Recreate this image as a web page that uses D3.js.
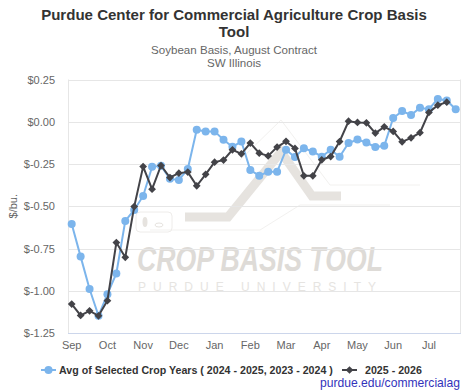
<!DOCTYPE html>
<html><head><meta charset="utf-8">
<script src="https://cdn.jsdelivr.net/npm/d3@7"></script>
<style>body{margin:0;background:#fff}svg{display:block}</style>
</head><body><svg id="c" width="468" height="390"></svg>
<script>
// ---- data ----
const monthLabels = ["Sep","Oct","Nov","Dec","Jan","Feb","Mar","Apr","May","Jun","Jul"];
const monthTickIndex = [0,4,8,12,16,20,24,28,32,36,40];
const yTicks = [0.25, 0, -0.25, -0.5, -0.75, -1, -1.25];
const avgSelected = [-0.605,-0.798,-0.990,-1.148,-1.020,-0.898,-0.587,-0.522,-0.439,-0.267,
  -0.261,-0.338,-0.344,-0.280,-0.047,-0.057,-0.057,-0.107,-0.148,-0.117,
  -0.286,-0.319,-0.296,-0.296,-0.166,-0.209,-0.157,-0.176,-0.207,-0.166,
  -0.207,-0.126,-0.105,-0.123,-0.150,-0.142,0.022,0.063,0.040,0.083,
  0.074,0.135,0.126,0.074];
const current = [-1.079,-1.146,-1.119,-1.148,-1.059,-0.715,-0.802,-0.502,-0.265,-0.399,
  -0.259,-0.330,-0.304,-0.298,-0.379,-0.311,-0.239,-0.227,-0.166,-0.190,
  -0.126,-0.186,-0.202,-0.150,-0.116,-0.158,-0.320,-0.320,-0.225,-0.206,
  -0.117,0.003,-0.004,-0.006,-0.067,-0.030,-0.057,-0.119,-0.095,-0.065,
  0.055,0.098,0.116];
const seriesNames = ["Avg of Selected Crop Years ( 2024 - 2025, 2023 - 2024 )", "2025 - 2026"];
const titleLines = ["Purdue Center for Commercial Agriculture Crop Basis", "Tool"];
const subtitleLines = ["Soybean Basis, August Contract", "SW Illinois"];
const yTitle = "$/bu.";
const credit = "purdue.edu/commercialag";
const watermarkLines = ["CROP BASIS TOOL", "PURDUE UNIVERSITY"];

// ---- layout ----
const FONT = "'Liberation Sans', Arial, sans-serif";
const svg = d3.select("#c");
const plot = {left: 68, right: 461, top: 79.5, bottom: 333};
const blue = "#7cb5ec", dark = "#434348";

svg.append("rect").attr("width",468).attr("height",390).attr("fill","#fff");

function fit(sel, target){
  const w = sel.node().getComputedTextLength();
  const fs = parseFloat(sel.attr("font-size"));
  sel.attr("font-size", (fs*target/w).toFixed(2));
}

const x = d3.scaleLinear().domain([0,43]).range([71.7,455.7]);
const y = d3.scaleLinear().domain([-1.25,0.25]).range([plot.bottom, plot.top]);

// titles
const t1 = svg.append("text").attr("x",234).attr("y",20).attr("text-anchor","middle")
  .attr("font-family",FONT).attr("font-weight","bold").attr("font-size",16).attr("fill","#333").text(titleLines[0]);
fit(t1, 386);
svg.append("text").attr("x",234).attr("y",37).attr("text-anchor","middle")
  .attr("font-family",FONT).attr("font-weight","bold").attr("font-size",t1.attr("font-size")).attr("fill","#333").text(titleLines[1]);
const s1 = svg.append("text").attr("x",234).attr("y",54).attr("text-anchor","middle")
  .attr("font-family",FONT).attr("font-size",12).attr("fill","#666").text(subtitleLines[0]);
fit(s1, 166);
svg.append("text").attr("x",234).attr("y",67).attr("text-anchor","middle")
  .attr("font-family",FONT).attr("font-size",s1.attr("font-size")).attr("fill","#666").text(subtitleLines[1]);

// watermark
const wm = svg.append("g");
wm.append("polyline").attr("points","185,217 228,217 281,152 312,196 341,196")
  .attr("fill","none").attr("stroke","#e6e3df").attr("stroke-width",9).attr("stroke-linejoin","miter");
wm.append("polyline").attr("points","240,160 281,120 330,185 420,185")
  .attr("fill","none").attr("stroke","#f2f1ef").attr("stroke-width",1);
wm.append("polyline").attr("points","150,230 260,230 300,205 390,205")
  .attr("fill","none").attr("stroke","#f2f1ef").attr("stroke-width",1);
wm.append("rect").attr("x",136).attr("y",212).attr("width",36).attr("height",20).attr("rx",4)
  .attr("fill","none").attr("stroke","#eeecea").attr("stroke-width",1);
wm.append("ellipse").attr("cx",145).attr("cy",222).attr("rx",2.5).attr("ry",5).attr("fill","#e6e3df");
wm.append("ellipse").attr("cx",159).attr("cy",225).attr("rx",4).attr("ry",2).attr("fill","none").attr("stroke","#e6e3df");
const wg = wm.append("g");
const wt = wg.append("text").attr("x",0).attr("y",0).attr("font-family",FONT).attr("font-weight","bold")
  .attr("font-style","italic").attr("font-size",35).attr("fill","#dedbd7").text(watermarkLines[0]);
const ww = wt.node().getComputedTextLength();
wg.attr("transform",`translate(137,271) scale(${(246/ww).toFixed(3)},1)`);
const ut = wm.append("text").attr("x",138).attr("y",291).attr("font-family",FONT)
  .attr("font-size",12).attr("fill","#e6e4e1").attr("letter-spacing",7).text(watermarkLines[1]);

// grid
svg.append("g").selectAll("line").data(yTicks).join("line")
  .attr("x1",plot.left).attr("x2",plot.right).attr("y1",d=>Math.round(y(d))+0.5).attr("y2",d=>Math.round(y(d))+0.5)
  .attr("stroke","#e6e6e6").attr("stroke-width",1);
svg.append("line").attr("x1",plot.left+0.5).attr("x2",plot.left+0.5).attr("y1",y(0.25)).attr("y2",plot.bottom)
  .attr("stroke","#e6e6e6");
svg.append("line").attr("x1",plot.right-0.5).attr("x2",plot.right-0.5).attr("y1",y(0.25)).attr("y2",plot.bottom)
  .attr("stroke","#e6e6e6");
svg.append("line").attr("x1",plot.left).attr("x2",plot.right).attr("y1",Math.round(plot.bottom)+0.5).attr("y2",Math.round(plot.bottom)+0.5)
  .attr("stroke","#ccd6eb");

// y labels
svg.append("g").selectAll("text").data(yTicks).join("text")
  .attr("x",55).attr("y",d=>y(d)+4).attr("text-anchor","end")
  .attr("font-family",FONT).attr("font-size",11).attr("fill","#666")
  .text(d=>"$"+d.toFixed(2));
// x labels
svg.append("g").selectAll("text").data(monthTickIndex).join("text")
  .attr("x",d=>x(d)).attr("y",349).attr("text-anchor","middle")
  .attr("font-family",FONT).attr("font-size",11).attr("fill","#666")
  .text((d,i)=>monthLabels[i]);
// y title
svg.append("text").attr("transform",`translate(17,${(plot.top+plot.bottom)/2}) rotate(-90)`)
  .attr("text-anchor","middle").attr("font-family",FONT).attr("font-size",11).attr("fill","#666").text(yTitle);

// series
const line = d3.line().x((d,i)=>x(i)).y(d=>y(d));
svg.append("path").datum(avgSelected).attr("d",line).attr("fill","none").attr("stroke",blue).attr("stroke-width",2);
svg.append("g").selectAll("circle").data(avgSelected).join("circle")
  .attr("cx",(d,i)=>x(i)).attr("cy",d=>y(d)).attr("r",4).attr("fill",blue);
svg.append("path").datum(current).attr("d",line).attr("fill","none").attr("stroke",dark).attr("stroke-width",2);
const sq = d3.symbol().type(d3.symbolSquare).size(30)();
svg.append("g").selectAll("path").data(current).join("path")
  .attr("transform",(d,i)=>`translate(${x(i)},${y(d)}) rotate(45)`)
  .attr("d",sq).attr("fill",dark);

// legend
const lg = svg.append("g");
lg.append("line").attr("x1",41).attr("x2",56).attr("y1",370).attr("y2",370).attr("stroke",blue).attr("stroke-width",2);
lg.append("circle").attr("cx",48.5).attr("cy",370).attr("r",4).attr("fill",blue);
const l1 = lg.append("text").attr("x",59).attr("y",374).attr("font-family",FONT).attr("font-weight","bold")
  .attr("font-size",12).attr("fill","#333").text(seriesNames[0]);
fit(l1, 274);
lg.append("line").attr("x1",342).attr("x2",357).attr("y1",370).attr("y2",370).attr("stroke",dark).attr("stroke-width",2);
lg.append("path").attr("transform","translate(349.5,370) rotate(45)").attr("d",sq).attr("fill",dark);
lg.append("text").attr("x",365).attr("y",374).attr("font-family",FONT).attr("font-weight","bold")
  .attr("font-size",l1.attr("font-size")).attr("fill","#333").text(seriesNames[1]);
// credit
const cr = svg.append("text").attr("x",460).attr("y",387).attr("text-anchor","end").attr("font-family",FONT)
  .attr("font-size",12).attr("fill","#3333bb").text(credit);
fit(cr, 140);
</script></body></html>
